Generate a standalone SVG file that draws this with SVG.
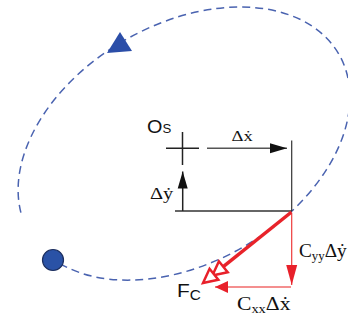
<svg xmlns="http://www.w3.org/2000/svg" width="348" height="324" viewBox="0 0 348 324">
<style>
.orbit{fill:none;stroke:#4a63b0;stroke-width:1.5;stroke-dasharray:8 5}
.blk{stroke:#222;stroke-width:1.5;fill:none}
.sans{font-family:"Liberation Sans",Arial,sans-serif;fill:#111}
.serif{font-family:"Liberation Serif","DejaVu Serif",serif;fill:#111}
</style>
<defs>
<marker id="ab" markerUnits="userSpaceOnUse" markerWidth="17" markerHeight="10" refX="17" refY="5" orient="auto" overflow="visible">
<path d="M0,0 L17,5 L0,10 z" fill="#111"/>
</marker>
<marker id="arv" markerUnits="userSpaceOnUse" markerWidth="20" markerHeight="11" refX="20" refY="5.5" orient="auto" overflow="visible">
<path d="M0,0 L20,5.5 L0,11 z" fill="#e8202a"/>
</marker>
<marker id="arh" markerUnits="userSpaceOnUse" markerWidth="13" markerHeight="12" refX="13" refY="6" orient="auto" overflow="visible">
<path d="M0,0 L13,6 L0,12 z" fill="#e8202a"/>
</marker>
<marker id="aopen" markerUnits="userSpaceOnUse" markerWidth="30" markerHeight="16" refX="2" refY="8" orient="auto" overflow="visible">
<path d="M2,1 L16,8 L2,15 z" fill="#fff" stroke="#e8202a" stroke-width="2.5" stroke-linejoin="miter"/>
<path d="M14,1 L28,8 L14,15 z" fill="#fff" stroke="#e8202a" stroke-width="2.5" stroke-linejoin="miter"/>
</marker>
</defs>

<g id="orbit">
<path class="orbit" d="M 20.9 212.6 A 178.8 119.2 -30 1 1 53.3 259.2"/>
<polygon points="120,32 107,53 132,51" fill="#2b4ea8"/>
</g>

<g id="rotor">
<circle cx="53" cy="260" r="10.5" fill="#2a52a6" stroke="#1c2e5e" stroke-width="1.2"/>
</g>

<g id="center-Os">
<line class="blk" x1="166" y1="148.3" x2="199" y2="148.3"/>
<line class="blk" x1="182.5" y1="132" x2="182.5" y2="165"/>
<text class="sans" transform="translate(147,133) scale(1.1,1)" font-size="18">O<tspan font-size="12">S</tspan></text>
</g>

<g id="frame">
<line stroke="#333" stroke-width="1.2" x1="291.7" y1="140.5" x2="291.7" y2="211"/>
<line stroke="#333" stroke-width="1.5" x1="175" y1="211" x2="292" y2="211"/>
</g>

<g id="connectors">
<line stroke="#555" stroke-width="1.5" x1="207" y1="148.3" x2="287" y2="148.3" marker-end="url(#ab)"/>
<line stroke="#222" stroke-width="1.5" x1="182.7" y1="211" x2="182.7" y2="171.5" marker-end="url(#ab)"/>
<line stroke="#ee3a3a" stroke-width="1.2" x1="291.7" y1="214" x2="291.7" y2="285" marker-end="url(#arv)"/>
<line stroke="#f06a6a" stroke-width="1.5" x1="291" y1="287" x2="215" y2="287" marker-end="url(#arh)"/>
<line stroke="#e8232a" stroke-width="3.5" x1="291.5" y1="212" x2="223.3" y2="266.7" marker-end="url(#aopen)"/>
</g>

<g id="labels">
<text class="serif" transform="translate(231.5,141) scale(1.2,1)" font-size="15.5">Δẋ</text>
<text class="serif" transform="translate(150,199) scale(1.2,1)" font-size="17">Δẏ</text>
<text class="serif" transform="translate(299,257) scale(1.07,1)" font-size="18">C<tspan font-size="12" dy="3">yy</tspan><tspan dy="-3">Δẏ</tspan></text>
<text class="serif" transform="translate(237,310) scale(1.2,1)" font-size="18">C<tspan font-size="12" dy="3">xx</tspan><tspan dy="-3">Δẋ</tspan></text>
<text class="sans" transform="translate(177,297) scale(1.1,1)" font-size="19">F<tspan font-size="14" dy="3">C</tspan></text>
</g>
</svg>
